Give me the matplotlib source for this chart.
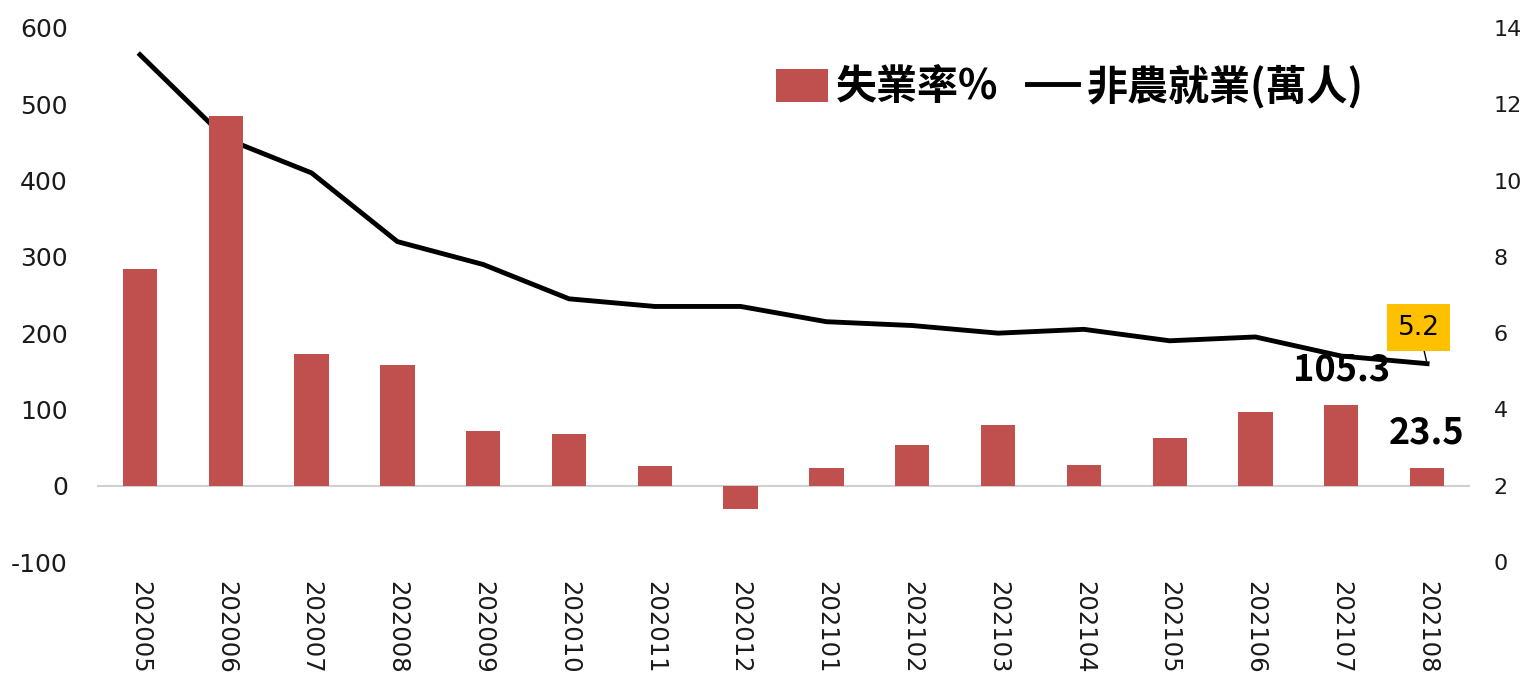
import numpy as np
import matplotlib.pyplot as plt

plt.rcParams['font.family'] = ['Noto Sans CJK TC', 'DejaVu Sans']
plt.rcParams['axes.unicode_minus'] = False

# 月份、非農就業增減(萬人)與失業率(%)
months = ['202005', '202006', '202007', '202008', '202009', '202010', '202011', '202012',
          '202101', '202102', '202103', '202104', '202105', '202106', '202107', '202108']
payrolls = [284, 485, 173, 158, 72, 68, 26, -31, 23, 54, 79, 27, 63, 97, 105.3, 23.5]
unemployment = [13.3, 11.1, 10.2, 8.4, 7.8, 6.9, 6.7, 6.7, 6.3, 6.2, 6.0, 6.1, 5.8, 5.9, 5.4, 5.2]

bar_color = '#C0504D'
num_font = 'DejaVu Sans'

fig = plt.figure(figsize=(15.26, 6.76), dpi=100)
ax = fig.add_axes([0.0636, 0.1686, 0.8997, 0.79])
ax2 = ax.twinx()

x = np.arange(len(months))
bars = ax.bar(x, payrolls, width=0.4, color=bar_color, zorder=2, label='失業率%')
line, = ax2.plot(x, unemployment, color='black', lw=3.5, zorder=3, label='非農就業(萬人)')

ax.set_xlim(-0.5, len(months) - 0.5)
ax.set_ylim(-100, 600)
ax.set_yticks(range(-100, 601, 100))
ax2.set_ylim(0, 14)
ax2.set_yticks(range(0, 15, 2))

ax.axhline(0, color='#D0D0D0', lw=1.5, zorder=1)
for a in (ax, ax2):
    for s in a.spines.values():
        s.set_visible(False)
    a.tick_params(length=0, labelsize=18, colors='#1a1a1a')
ax2.tick_params(axis='y', labelsize=16, pad=17)
ax.tick_params(axis='y', pad=21)
for a in (ax, ax2):
    for lab in a.get_yticklabels():
        lab.set_fontfamily(num_font)
ax.set_xticks(x)
ax.set_xticklabels(months, rotation=270, fontsize=17.5, fontfamily=num_font)
ax.tick_params(axis='x', pad=14)

ax.set_zorder(ax2.get_zorder() + 1)
ax.patch.set_visible(False)

# 最後兩個月的數值標示
for i in (len(months) - 2, len(months) - 1):
    ax.annotate(f'{payrolls[i]:.1f}', (x[i], payrolls[i]), xytext=(0, 12),
                textcoords='offset points', ha='center', va='bottom',
                fontsize=26, fontweight='bold', zorder=1)

ax2.annotate(f'{unemployment[-1]:.1f}', (x[-1], unemployment[-1]), xytext=(-6, 26),
             textcoords='offset points', ha='center', va='center', fontsize=19,
             fontfamily=num_font,
             bbox=dict(boxstyle='square,pad=0.4', fc='#FFC000', ec='none'),
             arrowprops=dict(arrowstyle='-', color='black', lw=1, shrinkA=0, shrinkB=2))

ax.legend([bars, line], ['失業率%', '非農就業(萬人)'], loc='upper left',
          bbox_to_anchor=(0.468, 1.0), ncol=2, frameon=False,
          prop={'size': 29.5, 'weight': 'bold'},
          handlelength=1.25, handleheight=0.85, handletextpad=0.2, columnspacing=0.7)

fig.savefig('out.png', dpi=100)
